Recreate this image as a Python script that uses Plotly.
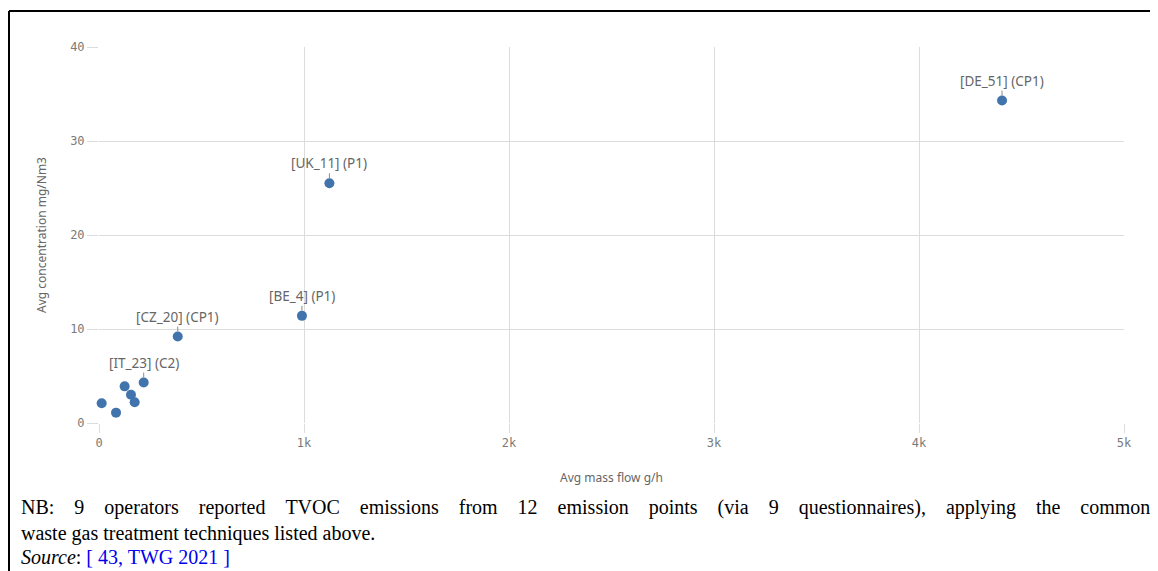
import plotly.graph_objects as go

# Avg mass flow (g/h) vs avg concentration (mg/Nm3)
mass_flow = [13, 83, 125, 156, 174, 218, 384, 990, 1124, 4405]
concentration = [2.1, 1.1, 3.9, 3.0, 2.2, 4.3, 9.2, 11.4, 25.5, 34.3]
point_ids = [None, None, None, None, None, 'IT_23', 'CZ_20', 'BE_4', 'UK_11', 'DE_51']
techniques = [None, None, None, None, None, 'C2', 'CP1', 'P1', 'P1', 'CP1']

x_ticks = [0, 1000, 2000, 3000, 4000, 5000]
x_tick_labels = ['0', '1k', '2k', '3k', '4k', '5k']
y_ticks = [0, 10, 20, 30, 40]

note_line1 = ['NB:', '9', 'operators', 'reported', 'TVOC', 'emissions', 'from', '12', 'emission',
              'points', '(via', '9', 'questionnaires),', 'applying', 'the', 'common']
note_line2 = 'waste gas treatment techniques listed above.'
source_ref = '[ 43, TWG 2021 ]'

# the page body has an 8px margin, so the figure is 8px smaller and
# all pixel positions below are in window pixels minus that offset
OFF = 8
W, H = 1158 - OFF, 571 - OFF
L, R, T, B = 99 - OFF, 34, 47 - OFF, 148
PW, PH = W - L - R, H - T - B


def px(x):
    return (x - OFF - L) / PW


def py(y):
    return (H - B - (y - OFF)) / PH


fig = go.Figure()
fig.add_trace(go.Scatter(
    x=mass_flow, y=concentration, mode='markers',
    marker=dict(color='#4174ad', size=10),
    cliponaxis=False, hoverinfo='x+y', showlegend=False,
))

for x, y, pid, tech in zip(mass_flow, concentration, point_ids, techniques):
    if pid is None:
        continue
    fig.add_annotation(
        x=x, y=y, text=f'[{pid}] ({tech})',
        showarrow=True, ax=0, ay=-10, arrowhead=0, arrowwidth=1, arrowcolor='#8a8a8a',
        standoff=5, yanchor='bottom', borderpad=0,
        font=dict(family='Noto Sans', size=13.5, color='#666666'),
    )

grid = '#dcdcdc'
fig.update_xaxes(
    range=[0, 5000], tickvals=x_ticks, ticktext=x_tick_labels,
    showgrid=True, gridcolor=grid, zeroline=False, showline=False,
    ticks='outside', ticklen=9, tickcolor=grid,
    tickfont=dict(family='DejaVu Sans Mono', size=12, color='#7a7a7a'),
    title=dict(text='Avg mass flow g/h', standoff=24,
               font=dict(family='Noto Sans', size=12, color='#666666')),
)
fig.update_yaxes(
    range=[0, 40], tickvals=y_ticks,
    showgrid=True, gridcolor=grid, zeroline=False, showline=False,
    ticks='outside', ticklen=11, tickcolor=grid,
    tickfont=dict(family='DejaVu Sans Mono', size=12, color='#7a7a7a'),
    title=dict(text='Avg concentration mg/Nm3', standoff=20,
               font=dict(family='Noto Sans', size=12, color='#666666')),
)

# footnote below the chart, first line spread out to mimic justified text
gap = '\u00a0' * 4
serif = dict(family='Liberation Serif', size=20, color='black')
fig.add_annotation(xref='paper', yref='paper', x=px(19), y=py(508), xanchor='left', yanchor='middle',
                   text=gap.join(note_line1), showarrow=False, font=serif)
fig.add_annotation(xref='paper', yref='paper', x=px(19), y=py(533), xanchor='left', yanchor='middle',
                   text=note_line2, showarrow=False, font=serif)
fig.add_annotation(xref='paper', yref='paper', x=px(19), y=py(557), xanchor='left', yanchor='middle',
                   text=f'<i>Source</i>: <span style="color:#0000ee">{source_ref}</span>',
                   showarrow=False, font=serif)

# black frame: only the left and top edges fall inside the picture
fig.add_shape(type='line', xref='paper', yref='paper',
              x0=px(9), x1=px(9), y0=py(11), y1=py(600),
              line=dict(color='black', width=2))
fig.add_shape(type='line', xref='paper', yref='paper',
              x0=px(9), x1=px(1200), y0=py(11), y1=py(11),
              line=dict(color='black', width=2))

fig.update_layout(
    width=W, height=H,
    margin=dict(l=L, r=R, t=T, b=B),
    paper_bgcolor='white', plot_bgcolor='white',
)

fig.write_html('out.html')
